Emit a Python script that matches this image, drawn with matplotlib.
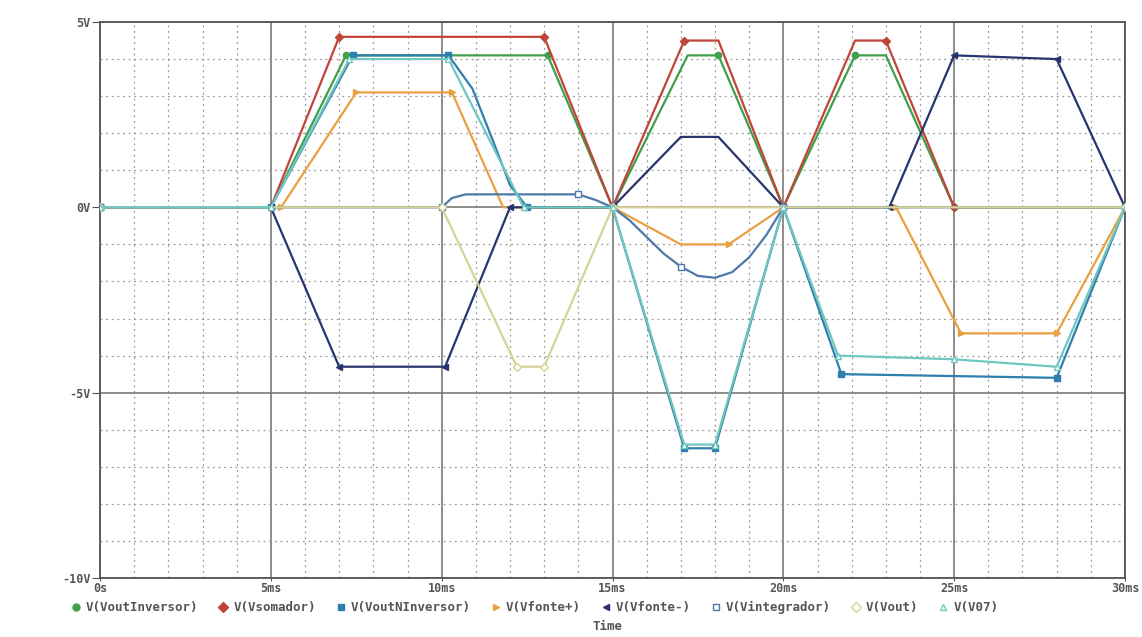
import matplotlib
matplotlib.use("Agg")
import matplotlib.pyplot as plt
from matplotlib.lines import Line2D
from matplotlib.ticker import MultipleLocator

# ---- transient results (time in ms, voltage in V) ----
t_somador = [0, 5, 7.0, 13.0, 15, 17.1, 18.1, 20, 22.1, 23.0, 25, 30]
v_somador = [0, 0, 4.6, 4.6, 0, 4.5, 4.5, 0, 4.5, 4.5, 0, 0]

t_inversor = [0, 5, 7.2, 13.1, 15, 17.2, 18.1, 20, 22.1, 23.0, 25, 30]
v_inversor = [0, 0, 4.1, 4.1, 0, 4.1, 4.1, 0, 4.1, 4.1, 0, 0]

t_ninversor = [0, 5, 7.4, 10.2, 10.9, 11.5, 12.0, 12.5, 15, 17.1, 18.0, 20, 21.7, 28.0, 30]
v_ninversor = [0, 0, 4.1, 4.1, 3.2, 1.8, 0.6, 0, 0, -6.5, -6.5, 0, -4.5, -4.6, 0]

t_fonte_p = [0, 5.3, 7.5, 10.3, 11.8, 15, 17.0, 18.4, 20, 23.3, 25.2, 28.0, 30]
v_fonte_p = [0, 0, 3.1, 3.1, 0, 0, -1.0, -1.0, 0, 0, -3.4, -3.4, 0]

t_fonte_n = [0, 5, 7.0, 10.1, 12.0, 15, 17.0, 18.1, 20, 23.1, 25.0, 28.0, 30]
v_fonte_n = [0, 0, -4.3, -4.3, 0, 0, 1.9, 1.9, 0, 0, 4.1, 4.0, 0]

t_integrador = [0, 10.0, 10.3, 10.7, 14.0, 14.5, 15, 15.5, 16.0, 16.5, 17.0, 17.5,
                18.0, 18.5, 19.0, 19.5, 20, 30]
v_integrador = [0, 0, 0.25, 0.35, 0.35, 0.2, 0, -0.35, -0.8, -1.25, -1.6, -1.85,
                -1.9, -1.75, -1.35, -0.75, 0, 0]

t_vout = [0, 10.0, 12.2, 13.0, 15, 30]
v_vout = [0, 0, -4.3, -4.3, 0, 0]

t_v07 = [0, 5, 7.3, 10.2, 12.4, 15, 17.1, 18.0, 20, 21.6, 25.0, 28.0, 30]
v_v07 = [0, 0, 4.0, 4.0, 0, 0, -6.4, -6.4, 0, -4.0, -4.1, -4.3, 0]

trace_names = ["V(VoutInversor)", "V(Vsomador)", "V(VoutNInversor)", "V(Vfonte+)",
               "V(Vfonte-)", "V(Vintegrador)", "V(Vout)", "V(V07)"]

x_ticks = [0, 5, 10, 15, 20, 25, 30]
x_labels = ["0s", "5ms", "10ms", "15ms", "20ms", "25ms", "30ms"]
y_ticks = [-10, -5, 0, 5]
y_labels = ["-10V", "-5V", "0V", "5V"]

series = [
    (t_inversor, v_inversor, "#3f9f4a", "o", True),
    (t_somador, v_somador, "#c0443a", "D", True),
    (t_ninversor, v_ninversor, "#2f7fae", "s", True),
    (t_fonte_p, v_fonte_p, "#e8a040", ">", True),
    (t_fonte_n, v_fonte_n, "#27346e", "<", True),
    (t_integrador, v_integrador, "#4d78a8", "s", False),
    (t_vout, v_vout, "#d6d39a", "D", False),
    (t_v07, v_v07, "#6fc7c0", "^", False),
]

fig = plt.figure(figsize=(11.42, 6.37), dpi=100)
ax = fig.add_axes([100 / 1142, 1 - 578 / 637, (1125 - 100) / 1142, (578 - 22) / 637])

for t, v, col, mk, filled in series:
    ax.plot(t, v, color=col, lw=1.6, marker=mk, markersize=4.5,
            markerfacecolor=col if filled else "white", markeredgecolor=col,
            markevery=0.13, zorder=3)

ax.set_xlim(0, 30)
ax.set_ylim(-10, 5)
ax.set_xticks(x_ticks)
ax.set_xticklabels(x_labels)
ax.set_yticks(y_ticks)
ax.set_yticklabels(y_labels)
ax.xaxis.set_minor_locator(MultipleLocator(1))
ax.yaxis.set_minor_locator(MultipleLocator(1))

ax.grid(which="major", color="#6e6e6e", lw=1.1, ls="-", zorder=1)
ax.grid(which="minor", color="#9a9a9a", lw=0.9, ls=(0, (1.5, 3)), zorder=1)
for s in ax.spines.values():
    s.set_color("#555555")
    s.set_linewidth(1.3)

ax.tick_params(axis="both", which="major", length=6, color="#555555",
               labelsize=8.5, labelcolor="#555555", pad=1)
ax.tick_params(axis="x", which="major", length=2)
ax.tick_params(axis="both", which="minor", length=0)
for lbl in ax.get_xticklabels() + ax.get_yticklabels():
    lbl.set_family("DejaVu Sans Mono")
    lbl.set_fontweight("bold")

handles = [Line2D([], [], ls="none", marker=mk, markersize=5, color=col,
                  markerfacecolor=col if filled else "white", markeredgecolor=col)
           for _, _, col, mk, filled in series]
leg = fig.legend(handles, trace_names, loc="center", bbox_to_anchor=(0.468, 0.046),
                 ncol=8, frameon=False, handlelength=0.8, handletextpad=0.4,
                 columnspacing=1.6, borderpad=0.1,
                 prop={"family": "DejaVu Sans Mono", "size": 9, "weight": "bold"})
for txt in leg.get_texts():
    txt.set_color("#555555")

fig.text(0.532, 0.016, "Time", ha="center", va="center", color="#555555",
         family="DejaVu Sans Mono", fontsize=9, fontweight="bold")

fig.savefig("out.png", dpi=100, facecolor="white")
